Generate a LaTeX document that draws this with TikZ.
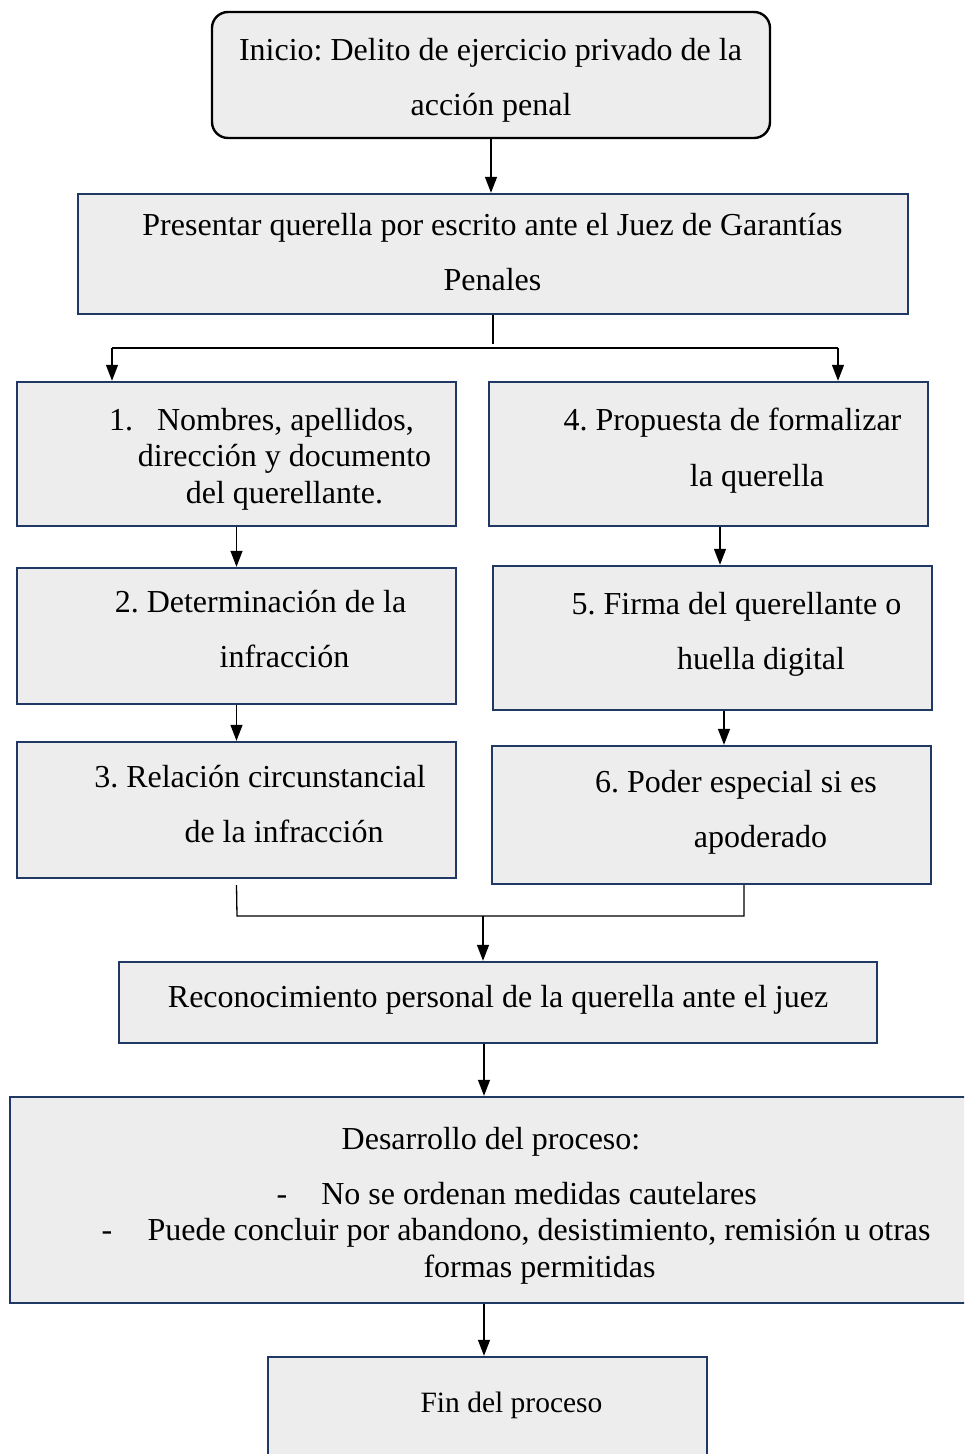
\documentclass[tikz,border=0pt]{standalone}
\usepackage{fontspec}
\setmainfont{Liberation Serif}
\usetikzlibrary{arrows.meta}
\definecolor{boxfill}{HTML}{EDEDED}
\definecolor{navy}{HTML}{1F3864}
\frenchspacing
\begin{document}
\begin{tikzpicture}[x=1pt,y=-1pt,
  box/.style={draw=navy,line width=2.4pt,fill=boxfill,rectangle,inner sep=0pt},
  rbox/.style={draw=black,line width=2.4pt,fill=boxfill,rounded corners=16pt,inner sep=0pt},
  txt/.style={anchor=base,inner sep=0pt,font=\fontsize{32}{37}\selectfont},
  ln/.style={draw=black,line width=1.3pt},
  arr/.style={ln,-{Triangle[length=16pt,width=12pt]}}]
\useasboundingbox (0,0) rectangle (964,1454);
\clip (0,0) rectangle (964,1454);
% boxes
\node[rbox,minimum width=558pt,minimum height=126pt] (inicio) at (491,75) {};
\node[box,minimum width=830pt,minimum height=120pt] (pres) at (493,254) {};
\node[box,minimum width=439pt,minimum height=144pt] (b1) at (236.5,454) {};
\node[box,minimum width=439pt,minimum height=144pt] (b4) at (708.5,454) {};
\node[box,minimum width=439pt,minimum height=136pt] (b2) at (236.5,636) {};
\node[box,minimum width=439pt,minimum height=136pt] (b3) at (236.5,810) {};
\node[box,minimum width=439pt,minimum height=144pt] (b5) at (712.5,638) {};
\node[box,minimum width=439pt,minimum height=138pt] (b6) at (711.5,815) {};
\node[box,minimum width=758pt,minimum height=81pt] (rec) at (498,1002.5) {};
\node[box,minimum width=965pt,minimum height=206pt] (des) at (492.5,1200) {};
\node[box,minimum width=439pt,minimum height=114pt] (fin) at (487.5,1414) {};
% texts
\node[txt] (i1) at (490.5,60) {Inicio: Delito de ejercicio privado de la};
\node[txt] (i2) at (491,115) {acción penal};
\node[txt] (p1) at (492.5,235) {Presentar querella por escrito ante el Juez de Garantías};
\node[txt] (p2) at (492.5,290) {Penales};
\node[txt] (t1a) at (261.5,430) {1.\hspace{24pt}Nombres, apellidos,};
\node[txt] (t1b) at (284.5,466) {dirección y documento};
\node[txt] (t1c) at (284.5,503) {del querellante.};
\node[txt] (t4a) at (732.5,430) {4. Propuesta de formalizar};
\node[txt] (t4b) at (757,486) {la querella};
\node[txt] (t2a) at (260.5,612) {2. Determinación de la};
\node[txt] (t2b) at (284.5,667) {infracción};
\node[txt] (t3a) at (260,787) {3. Relación circunstancial};
\node[txt] (t3b) at (284,842) {de la infracción};
\node[txt] (t5a) at (736.5,614) {5. Firma del querellante o};
\node[txt] (t5b) at (761,669) {huella digital};
\node[txt] (t6a) at (736,792) {6. Poder especial si es};
\node[txt] (t6b) at (760.5,847) {apoderado};
\node[txt] (r1) at (498,1007) {Reconocimiento personal de la querella ante el juez};
\node[txt] (d1) at (491,1149) {Desarrollo del proceso:};
\node[txt] (d2dash) at (282,1204) {-};
\node[txt] (d2) at (539,1204) {No se ordenan medidas cautelares};
\node[txt] (d3dash) at (107,1240) {-};
\node[txt] (d3) at (539,1240) {Puede concluir por abandono, desistimiento, remisión u otras};
\node[txt] (d4) at (539.5,1277) {formas permitidas};
\node[txt,font=\fontsize{29.5}{34}\selectfont] (f1) at (511.5,1412) {Fin del proceso};
% connectors
\coordinate (jc) at (493,344);
\coordinate (jl) at (112,348);
\coordinate (jr) at (838,348);
\coordinate (mL) at (237,916);
\coordinate (mR) at (744,916);
\coordinate (mC) at (483,916);
\draw[arr] (inicio.south) -- (inicio.south |- pres.north);
\draw[ln] (pres.south) -- (jc);
\draw[ln] (jl) -- (jr);
\draw[arr] (jl) -- (jl |- b1.north);
\draw[arr] (jr) -- (jr |- b4.north);
\draw[arr] (b1.south) -- (b1.south |- b2.north);
\draw[arr] (b2.south) -- (b2.south |- b3.north);
\draw[arr] (720,0 |- b4.south) -- (720,0 |- b5.north);
\draw[arr] (724,0 |- b5.south) -- (724,0 |- b6.north);
\draw[ln] ([yshift=-6pt]b3.south) -- (mL) -- (mR) -- (744,0 |- b6.south);
\draw[arr] (mC) -- (mC |- rec.north);
\draw[arr] (484,0 |- rec.south) -- (484,0 |- des.north);
\draw[arr] (484,0 |- des.south) -- (484,0 |- fin.north);
\end{tikzpicture}
\end{document}
